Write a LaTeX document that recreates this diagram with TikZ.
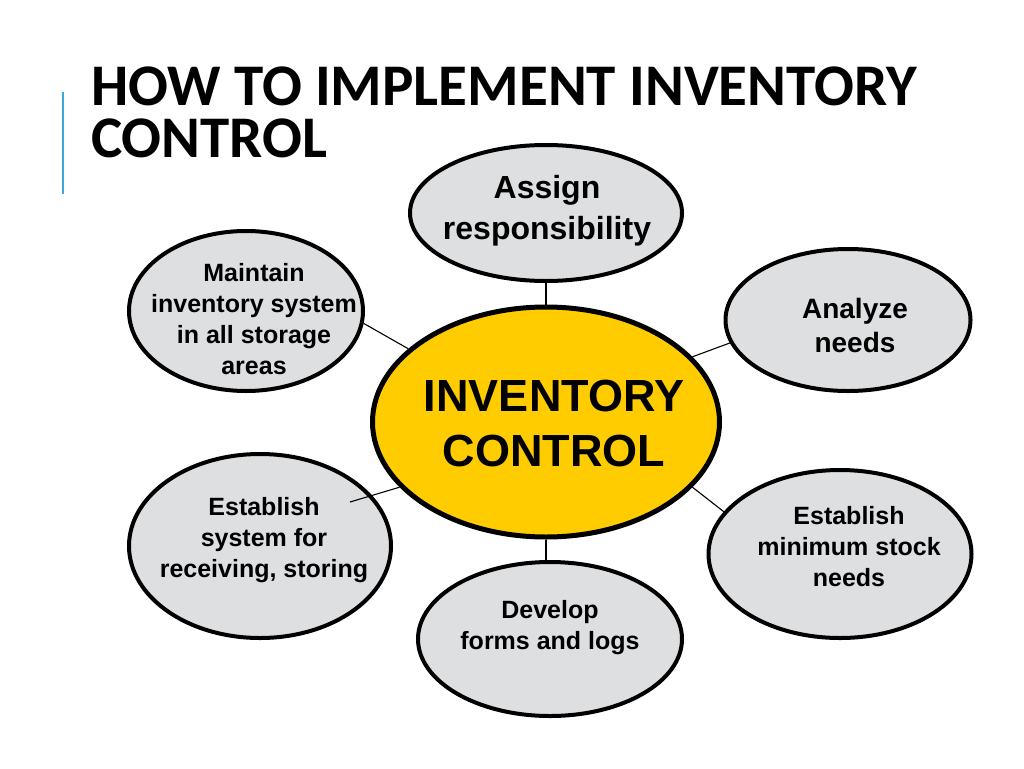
\documentclass[tikz,border=0pt]{standalone}
\usepackage{fontspec}
\setmainfont{Liberation Sans}
\newfontfamily\titlefont{Carlito}
\usetikzlibrary{shapes.geometric}
\definecolor{bubblegray}{RGB}{221,223,225}
\definecolor{coreyellow}{RGB}{255,204,0}
\definecolor{barblue}{RGB}{59,169,220}
\begin{document}
\begin{tikzpicture}[x=1pt,y=-1pt,
  bubble/.style={ellipse, draw=black, line width=4pt, fill=bubblegray, inner sep=0pt},
  core/.style={ellipse, draw=black, line width=5pt, fill=coreyellow, inner sep=0pt},
  bubbletext/.style={align=center, inner sep=0pt, font=\bfseries\fontsize{25}{31}\selectfont},
  link/.style={draw=black, line width=1.1pt},
  ttl/.style={font=\titlefont\bfseries\fontsize{59}{52}\selectfont, anchor=north west, align=left, inner sep=0pt}]
\useasboundingbox[fill=white] (0,0) rectangle (1024,768);

% title
\draw[barblue, line width=2.5pt] (63,92) -- (63,194);
\node[ttl] (title) at (91,67) {HOW TO IMPLEMENT INVENTORY\\CONTROL};

% ellipses
\node[core, minimum width=347pt, minimum height=230pt] (c) at (546,422) {};
\node[bubble, minimum width=272pt, minimum height=136pt] (a) at (546,213) {};
\node[bubble, minimum width=234pt, minimum height=160pt] (tl) at (246,311) {};
\node[bubble, minimum width=245pt, minimum height=142pt] (r) at (848,320) {};
\node[bubble, minimum width=262pt, minimum height=184pt] (bl) at (260,546) {};
\node[bubble, minimum width=263pt, minimum height=168pt] (br) at (840,554) {};
\node[bubble, minimum width=264pt, minimum height=154pt] (d) at (550,639) {};

% connectors
\coordinate (blin) at (350,502);
\draw[link] (a.south) -- (c.north);
\draw[link] (c.south) -- (c.south |- d.north);
\draw[link] (tl.-6) -- (c.152);
\draw[link] (r.191) -- (c.24);
\draw[link] (br.160) -- (c.-24);
\draw[link] (blin) -- (c.204);

% texts
\node[bubbletext, font=\bfseries\fontsize{45}{55}\selectfont] (tc) at (554,424) {INVENTORY\\CONTROL};
\node[bubbletext, font=\bfseries\fontsize{32}{41}\selectfont] (ta) at (547,211) {Assign\\responsibility};
\node[bubbletext] (ttl) at (254,319) {Maintain\\inventory system\\in all storage\\areas};
\node[bubbletext, font=\bfseries\fontsize{28}{34}\selectfont] (tr) at (855,325) {Analyze\\needs};
\node[bubbletext] (tbl) at (264,540) {Establish\\system for\\receiving, storing};
\node[bubbletext] (tbr) at (849,547) {Establish\\minimum stock\\needs};
\node[bubbletext] (td) at (550,628) {Develop\\forms and logs};
\end{tikzpicture}
\end{document}
